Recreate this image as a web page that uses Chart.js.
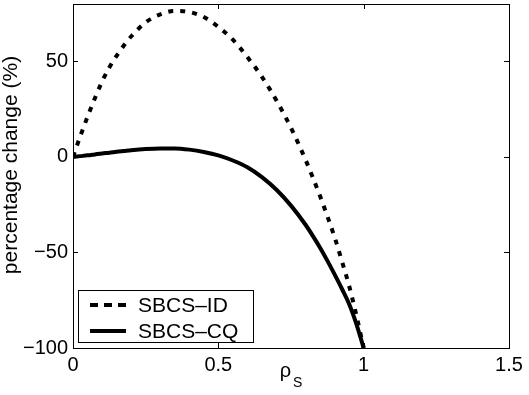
<!DOCTYPE html>
<html>
<head>
<meta charset="utf-8">
<script src="https://cdn.jsdelivr.net/npm/chart.js@4/dist/chart.umd.min.js"></script>
<style>
  html, body { margin: 0; padding: 0; background: #fff; }
  #wrap { width: 529px; height: 395px; }
</style>
</head>
<body>
<div id="wrap"><canvas id="c" width="529" height="395"></canvas></div>
<script>
// ---- data ----
const rhoS = [0, 0.025, 0.05, 0.075, 0.1, 0.125, 0.15, 0.175, 0.2, 0.25, 0.3, 0.35, 0.4, 0.45, 0.5, 0.55, 0.6, 0.65, 0.7, 0.75, 0.8, 0.825, 0.85, 0.875, 0.9, 0.925, 0.95, 0.975, 1.0];
const sbcsID = [0, 10.8, 21, 30.6, 39.4, 46.8, 52.9, 58.3, 63, 70.4, 74.6, 76.4, 75.8, 73.2, 68, 61.3, 52.2, 41.9, 29.5, 15.2, -1.5, -10.8, -20.5, -31, -42, -54.5, -67.5, -83, -100];
const sbcsCQ = [0, 0.4, 0.8, 1.3, 1.8, 2.2, 2.7, 3.1, 3.5, 4.1, 4.4, 4.4, 3.8, 2.6, 0.8, -1.9, -5.4, -10.6, -17.2, -25.5, -35.5, -41.3, -47.5, -54.3, -61.5, -69, -77, -87.5, -100];
const seriesLabels = ['SBCS\u2013ID', 'SBCS\u2013CQ'];
const xTicks = [0, 0.5, 1, 1.5];
const yTicks = [-100, -50, 0, 50];
const xRange = [0, 1.5];
const yRange = [-100, 80];
const xTitle = ['\u03C1', 'S'];
const yTitle = 'percentage change (%)';

const fmt = v => String(v).replace('-', '\u2212');
const FONT = '"Liberation Sans", Arial, Helvetica, sans-serif';

const decor = {
  id: 'decor',
  afterDraw(chart) {
    const ctx = chart.ctx;
    const a = chart.chartArea;
    const xs = chart.scales.x, ys = chart.scales.y;
    ctx.save();
    ctx.strokeStyle = '#000';
    ctx.lineWidth = 1;
    // box
    ctx.strokeRect(Math.round(a.left) + 0.5, Math.round(a.top) + 0.5,
                   Math.round(a.right) - Math.round(a.left), Math.round(a.bottom) - Math.round(a.top));
    // inward ticks
    const L = 5;
    ctx.beginPath();
    xTicks.forEach(v => {
      const px = Math.round(xs.getPixelForValue(v)) + 0.5;
      ctx.moveTo(px, a.bottom); ctx.lineTo(px, a.bottom - L);
      ctx.moveTo(px, a.top); ctx.lineTo(px, a.top + L);
    });
    yTicks.forEach(v => {
      const py = Math.round(ys.getPixelForValue(v)) + 0.5;
      ctx.moveTo(a.left, py); ctx.lineTo(a.left + L, py);
      ctx.moveTo(a.right, py); ctx.lineTo(a.right - L, py);
    });
    ctx.stroke();

    // x title: rho with subscript S
    ctx.fillStyle = '#000';
    const cx = (a.left + a.right) / 2;
    ctx.textBaseline = 'alphabetic';
    ctx.textAlign = 'left';
    ctx.font = '20px ' + FONT;
    const w1 = ctx.measureText(xTitle[0]).width;
    ctx.font = '14px ' + FONT;
    const w2 = ctx.measureText(xTitle[1]).width;
    const start = cx - (w1 + w2 + 2) / 2;
    ctx.font = '20px ' + FONT;
    ctx.fillText(xTitle[0], start, 377);
    ctx.font = '14px ' + FONT;
    ctx.fillText(xTitle[1], start + w1 + 2, 387);

    // y title
    ctx.save();
    ctx.translate(11, 165);
    ctx.rotate(-Math.PI / 2);
    ctx.font = '21px ' + FONT;
    ctx.textAlign = 'center';
    ctx.textBaseline = 'middle';
    ctx.fillText(yTitle, 0, 0);
    ctx.restore();

    // legend
    const lx = 78.5, ly = 290.5, lw = 175, lh = 52;
    ctx.fillStyle = '#fff';
    ctx.fillRect(lx, ly, lw, lh);
    ctx.strokeStyle = '#000';
    ctx.lineWidth = 1;
    ctx.strokeRect(lx, ly, lw, lh);
    const rows = [305, 331];
    chart.data.datasets.forEach((ds, i) => {
      ctx.beginPath();
      ctx.lineWidth = ds.borderWidth;
      ctx.setLineDash(i === 0 ? [8, 6] : []);
      ctx.moveTo(90, rows[i]); ctx.lineTo(126, rows[i]);
      ctx.stroke();
      ctx.setLineDash([]);
      ctx.fillStyle = '#000';
      ctx.font = '21px ' + FONT;
      ctx.textAlign = 'left';
      ctx.textBaseline = 'middle';
      ctx.fillText(ds.label, 138, rows[i] + 1);
    });
    ctx.restore();
  }
};

new Chart(document.getElementById('c'), {
  type: 'line',
  data: {
    datasets: [
      {
        label: seriesLabels[0],
        data: rhoS.map((x, i) => ({ x, y: sbcsID[i] })),
        borderColor: '#000', borderWidth: 4, borderDash: [5, 7],
        pointRadius: 0, fill: false, cubicInterpolationMode: 'monotone'
      },
      {
        label: seriesLabels[1],
        data: rhoS.map((x, i) => ({ x, y: sbcsCQ[i] })),
        borderColor: '#000', borderWidth: 4,
        pointRadius: 0, fill: false, cubicInterpolationMode: 'monotone'
      }
    ]
  },
  options: {
    responsive: false,
    animation: false,
    devicePixelRatio: 1,
    layout: { padding: { left: 0, right: 20, top: 4, bottom: 0 } },
    plugins: { legend: { display: false }, tooltip: { enabled: false } },
    scales: {
      x: {
        type: 'linear', min: xRange[0], max: xRange[1],
        grid: { display: false, drawTicks: false }, border: { display: false },
        afterBuildTicks: s => { s.ticks = xTicks.map(v => ({ value: v })); },
        afterFit: s => { s.height = 47; s.paddingLeft = 0; s.paddingRight = 0; s.paddingTop = 0; s.paddingBottom = 0; },
        ticks: { color: '#000', font: { family: FONT, size: 20 }, padding: 5, maxRotation: 0, callback: v => fmt(v) }
      },
      y: {
        type: 'linear', min: yRange[0], max: yRange[1],
        grid: { display: false, drawTicks: false }, border: { display: false },
        afterBuildTicks: s => { s.ticks = yTicks.map(v => ({ value: v })); },
        afterFit: s => { s.width = 73; s.paddingTop = 0; s.paddingBottom = 0; s.paddingLeft = 0; s.paddingRight = 0; },
        ticks: { color: '#000', font: { family: FONT, size: 20 }, padding: 5, callback: v => fmt(v) }
      }
    }
  },
  plugins: [decor]
});
</script>
</body>
</html>
